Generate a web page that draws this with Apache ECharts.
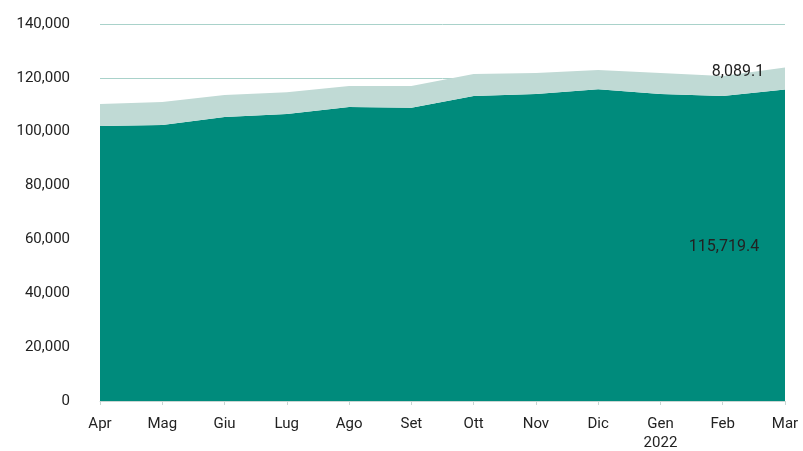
<!DOCTYPE html>
<html>
<head>
<meta charset="utf-8">
<script src="https://cdn.jsdelivr.net/npm/echarts@6/dist/echarts.min.js"></script>
<style>
  html, body { margin: 0; padding: 0; background: #fff; }
  #chart { width: 803px; height: 451px; }
</style>
</head>
<body>
<div id="chart"></div>
<script>
var months = ['Apr', 'Mag', 'Giu', 'Lug', 'Ago', 'Set', 'Ott', 'Nov', 'Dic', 'Gen\n2022', 'Feb', 'Mar'];
// bottom series (dark) and top series (light), stacked
var baseValues = [102100, 102500, 105500, 106600, 109200, 108900, 113300, 114000, 115800, 114000, 113300, 115719.4];
var extraValues = [8200, 8500, 8100, 8100, 7800, 8100, 8100, 7800, 7100, 7800, 7400, 8089.1];

function fmt(v) {
  return v.toLocaleString('en-US', { minimumFractionDigits: 1, maximumFractionDigits: 1 });
}

var last = months.length - 1;

var baseData = baseValues.map(function (v, i) {
  if (i !== last) return v;
  return {
    value: v,
    label: { show: true, position: 'inside', offset: [-61, 158], formatter: function (p) { return fmt(p.value); } }
  };
});
var extraData = extraValues.map(function (v, i) {
  if (i !== last) return v;
  return {
    value: v,
    label: { show: true, position: 'inside', offset: [-47, 4], formatter: function (p) { return fmt(p.value); } }
  };
});

var textStyle = { color: '#222', fontSize: 15, fontFamily: 'Roboto' };

var option = {
  animation: false,
  grid: { left: 100, right: 18, top: 24, bottom: 50, outerBoundsMode: 'none', containLabel: false },
  xAxis: {
    type: 'category',
    data: months,
    boundaryGap: false,
    axisLine: { lineStyle: { color: '#c9d6d3', width: 1 } },
    axisTick: { show: true, length: 4, lineStyle: { color: '#c9d6d3' } },
    axisLabel: Object.assign({ margin: 14, lineHeight: 19, interval: 0 }, textStyle)
  },
  yAxis: {
    type: 'value',
    min: 0,
    max: 140000,
    interval: 20000,
    axisLine: { show: false },
    axisTick: { show: false },
    splitLine: { lineStyle: { color: '#a9d2ca', width: 1 } },
    axisLabel: Object.assign({
      margin: 30,
      formatter: function (v) { return v.toLocaleString('en-US'); }
    }, textStyle)
  },
  series: [
    {
      name: 'base',
      type: 'line',
      stack: 'tot',
      data: baseData,
      symbol: 'circle',
      symbolSize: 0,
      showSymbol: true,
      lineStyle: { width: 0 },
      areaStyle: { color: '#008b7c', opacity: 1 },
      label: Object.assign({ show: false }, textStyle, { fontSize: 16 }),
      z: 3
    },
    {
      name: 'extra',
      type: 'line',
      stack: 'tot',
      data: extraData,
      symbol: 'circle',
      symbolSize: 0,
      showSymbol: true,
      lineStyle: { width: 0 },
      areaStyle: { color: '#c0dad5', opacity: 1 },
      label: Object.assign({ show: false }, textStyle, { fontSize: 16 }),
      z: 3
    }
  ]
};

var myChart = echarts.init(document.getElementById('chart'));
myChart.setOption(option);
</script>
</body>
</html>
